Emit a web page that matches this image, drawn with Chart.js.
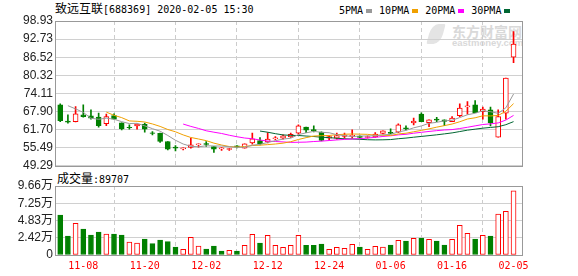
<!DOCTYPE html>
<html><head><meta charset="utf-8">
<script src="https://cdn.jsdelivr.net/npm/chart.js@4.4.1/dist/chart.umd.min.js"></script>
<style>
html,body{margin:0;padding:0;background:#fff;width:578px;height:276px;overflow:hidden;}
#wrap{position:relative;width:578px;height:276px;}
.abs{position:absolute;white-space:nowrap;line-height:14px;color:#000;}
.cjk{font-family:"Noto Sans CJK SC";font-size:12px;}
.mono{font-family:"DejaVu Sans Mono";font-size:10px;}
.sq{display:inline-block;width:6px;height:4px;margin:0 7px 0 3px;vertical-align:1px;}
#wm{position:absolute;left:420px;top:22px;width:102px;height:26px;overflow:hidden;}
#wm .abs{color:#d9d9d9;}
canvas{position:absolute;left:0;}
</style></head>
<body><div id="wrap">
<div id="wm">
  <div class="abs" style="left:32px;top:1px;font-family:'Noto Sans CJK SC';font-weight:bold;font-size:14px;line-height:16px;">东方财富网</div>
  <div class="abs" style="left:32px;top:16px;font-family:'Liberation Sans';font-weight:bold;font-size:9.5px;line-height:10px;">eastmoney.com</div>
  <div class="abs" style="left:9px;top:2px;width:14px;height:20px;border-radius:50% 10% 50% 10%;background:#e4e4e4;transform:skewX(-15deg);"></div>
</div>
<div class="abs" id="title" style="left:55px;top:1px;"></div>
<div class="abs" id="legend" style="left:339px;top:2px;"></div>
<div class="abs" id="vlabel" style="left:57px;top:171px;"></div>
<canvas id="pc" width="578" height="176" style="top:0;"></canvas>
<canvas id="vc" width="578" height="106" style="top:170px;"></canvas>
</div>
<script>
// ---------- data ----------
const stockName = '致远互联';
const stockCode = '688369';
const stamp = '2020-02-05 15:30';
const volTitle = '成交量';
const dates = ['11-05','11-06','11-07','11-08','11-11','11-12','11-13','11-14','11-15','11-18','11-19','11-20','11-21','11-22','11-25','11-26','11-27','11-28','11-29','12-02','12-03','12-04','12-05','12-06','12-09','12-10','12-11','12-12','12-13','12-16','12-17','12-18','12-19','12-20','12-23','12-24','12-25','12-26','12-27','12-30','12-31','01-02','01-03','01-06','01-07','01-08','01-09','01-10','01-13','01-14','01-15','01-16','01-17','01-20','01-21','01-22','01-23','02-03','02-04','02-05'];
const tickIdx = [3,11,19,27,35,43,51,59];
const open  = [70.17,64.59,64.45,66.75,66.40,65.96,63.75,66.51,64.00,62.44,63.00,63.50,60.59,60.42,57.61,55.73,55.10,55.62,56.50,56.95,55.90,55.10,54.90,56.10,55.35,57.16,57.95,57.50,58.55,58.77,59.16,60.48,62.54,61.70,60.83,58.77,58.77,59.40,59.40,59.40,59.00,59.22,60.35,60.80,60.80,62.30,64.00,66.99,64.11,65.30,65.04,64.46,66.51,69.50,70.17,67.88,68.46,59.11,67.33,86.50];
const high  = [70.50,66.75,69.59,70.17,68.46,67.33,66.99,67.09,64.00,63.32,63.56,63.90,61.03,60.48,57.61,56.24,55.45,58.77,56.82,57.61,55.90,55.56,55.30,56.24,56.82,60.48,58.98,60.69,59.32,59.90,60.48,63.32,62.54,62.98,60.93,59.56,60.48,60.48,61.61,59.56,59.60,60.69,61.27,61.95,63.67,62.98,65.62,67.43,65.04,65.89,65.04,66.17,70.51,71.30,71.64,69.38,69.38,68.46,79.40,95.28];
const low   = [64.45,63.90,64.30,65.96,65.27,62.54,63.09,65.27,61.61,61.85,61.85,60.83,59.90,57.27,54.77,54.42,54.77,55.35,55.69,55.97,53.84,54.53,54.60,55.45,55.35,56.72,56.48,57.10,58.19,58.43,58.98,60.14,60.69,60.90,57.85,58.19,58.43,58.77,58.77,58.77,58.80,58.98,60.24,60.24,60.69,61.61,63.32,64.46,62.74,64.45,63.09,64.46,66.17,66.99,67.53,65.27,62.98,59.11,65.27,84.65];
const close = [64.80,64.25,67.09,66.17,65.62,63.09,66.17,65.27,61.95,62.33,63.56,61.85,60.42,57.61,55.00,55.32,55.45,56.48,56.82,56.65,55.00,55.45,55.20,55.79,56.82,58.53,56.82,58.43,58.87,59.56,60.05,62.98,61.51,61.37,57.95,59.33,59.66,59.80,59.73,59.05,59.30,60.14,61.27,60.42,63.32,61.95,64.58,64.46,65.04,64.93,64.52,65.62,69.04,69.83,67.53,68.70,64.11,66.17,79.40,91.05];
const volume = [56000,26600,44300,36400,28000,32200,29400,29400,28000,18200,16800,22400,15900,21000,18700,11200,7900,24700,12600,8400,12600,5600,6500,5600,13500,28900,16800,27500,13500,10700,13500,27500,13500,13500,15400,7900,10700,9300,14900,11200,7900,12100,11200,14000,20500,19600,23300,23800,22000,19600,14000,22000,41500,30300,22400,27500,26600,57400,61200,89707];
const volDir = ['d','d','u','d','d','d','u','d','d','u','u','d','d','d','d','d','u','u','u','d','d','d','u','d','u','u','d','u','u','u','u','u','d','d','d','u','u','u','u','d','u','u','u','d','u','d','u','d','u','d','d','u','u','u','d','u','d','u','u','u'];
const ma5  = [null,69.9,68.8,67.6,65.59,65.24,65.63,65.26,64.42,63.76,63.86,62.99,62.02,61.15,59.69,58.04,56.76,55.97,55.81,56.14,56.08,56.08,55.82,55.62,55.65,56.36,56.63,57.28,57.89,58.44,58.75,59.98,60.59,61.09,60.77,60.63,59.96,59.62,59.29,59.51,59.51,59.60,59.90,60.04,60.89,61.42,62.31,62.95,63.87,64.19,64.71,64.91,65.83,66.79,67.31,68.14,67.84,67.27,69.18,73.89];
const ma10 = [null,null,null,null,null,null,67.7,66.6,65.8,64.67,64.55,64.31,63.64,62.79,61.73,60.95,59.88,59.00,58.48,57.92,57.06,56.42,55.90,55.72,55.90,56.22,56.36,56.55,56.76,57.05,57.55,58.31,58.94,59.49,59.61,59.69,59.97,60.11,60.19,60.14,60.07,59.78,59.76,59.67,60.20,60.46,60.96,61.42,61.95,62.54,63.06,63.61,64.39,65.33,65.75,66.43,66.38,66.55,67.99,70.60];
const ma20 = [null,null,null,null,null,null,null,null,null,null,null,null,null,null,null,null,63.6,62.8,62.1,61.30,60.81,60.37,59.77,59.25,58.81,58.58,58.12,57.77,57.62,57.48,57.31,57.36,57.42,57.61,57.75,57.95,58.16,58.33,58.48,58.60,58.81,59.04,59.35,59.58,59.90,60.08,60.46,60.77,61.07,61.34,61.57,61.70,62.07,62.50,62.98,63.44,63.67,63.99,64.97,66.57];
const ma30 = [null,null,null,null,null,null,null,null,null,null,null,null,null,null,null,null,null,null,null,null,null,null,null,null,null,null,61.2,60.8,60.3,59.88,59.72,59.68,59.49,59.33,59.08,58.95,58.73,58.55,58.48,58.37,58.23,58.17,58.20,58.29,58.57,58.79,59.09,59.36,59.63,59.91,60.23,60.57,61.03,61.50,61.85,62.19,62.44,62.69,63.38,64.43];
const maNames  = ['5PMA','10PMA','20PMA','30PMA'];
const maSeries = [ma5, ma10, ma20, ma30];
const maColors = ['#999999','#f0a000','#ff00ff','#006633'];
const priceTicks = [49.29,55.49,61.70,67.90,74.11,80.32,86.52,92.73,98.93];
const volTicks = [0,24150,48300,72450,96600];
const volTickLabels = ['0','2.42万','4.83万','7.25万','9.66万'];

// ---------- text ----------
document.getElementById('title').innerHTML =
  '<span class="cjk">'+stockName+'</span><span class="mono">['+stockCode+'] '+stamp+'</span>';
document.getElementById('legend').innerHTML = maNames.map((n,k)=>
  '<span class="mono">'+n+'</span><span class="sq" style="background:'+maColors[k]+'"></span>').join('');
document.getElementById('vlabel').innerHTML =
  '<span class="cjk">'+volTitle+'</span><span class="mono">:'+volume[volume.length-1]+'</span>';

// ---------- charts ----------
const UP = '#ff0000', DOWN = '#008000';
const idx = dates.map((d,i)=>i);
const isUp = idx.map(i=>close[i] >= open[i]);
const XMIN = -0.55, XMAX = 60.1;

const framePlugin = {
  id:'frame',
  beforeDatasetsDraw(chart){
    const a = chart.chartArea, c = chart.ctx;
    c.save(); c.strokeStyle = '#999'; c.lineWidth = 1;
    const l = Math.floor(a.left)-0.5, t = Math.floor(a.top)+0.5;
    const r = Math.round(a.right)+0.5, b = Math.round(a.bottom)+0.5;
    c.strokeRect(l, t, r-l, b-t);
    c.restore();
  }
};

function xScale(showLabels){
  return {
    type:'linear', min:XMIN, max:XMAX, offset:false,
    afterBuildTicks:(s)=>{ s.ticks = tickIdx.map(v=>({value:v})); },
    afterFit:(s)=>{ s.height = showLabels ? 21 : 0; },
    grid:{ color:'#cccccc', lineWidth:1, drawTicks:false },
    border:{ display:false, dash:[4,3] },
    ticks:{ display:showLabels, autoSkip:false, maxRotation:0, padding:5, color:'#ff0000',
      font:{ family:'DejaVu Sans Mono', size:10 },
      callback:(v)=>dates[v] }
  };
}

new Chart(document.getElementById('pc'), {
  type:'bar',
  data:{ datasets:[
    ...maSeries.map((s,k)=>({
      type:'line', label:maNames[k], order:0,
      data: idx.filter(i=>s[i]!==null).map(i=>({x:i, y:s[i]})),
      borderColor:maColors[k], borderWidth:1, pointRadius:0, tension:0, fill:false
    })),
    { label:'body', order:1, grouped:false, barThickness:5,
      data: idx.map(i=>({x:i, y:[open[i], close[i]]})),
      backgroundColor: idx.map(i=>isUp[i] ? '#ffffff' : DOWN),
      borderColor: idx.map(i=>isUp[i] ? UP : DOWN),
      borderWidth:1, borderSkipped:false },
    { label:'wick', order:2, grouped:false, barThickness:1,
      data: idx.map(i=>({x:i, y:[low[i], high[i]]})),
      backgroundColor: idx.map(i=>isUp[i] ? UP : DOWN),
      borderWidth:0 }
  ]},
  options:{
    responsive:false, animation:false, devicePixelRatio:1,
    layout:{ padding:{ top:21, bottom:10, left:0, right:56 } },
    plugins:{ legend:{display:false}, tooltip:{enabled:false} },
    scales:{
      x: xScale(false),
      y:{ type:'linear', min:49.29, max:98.93,
        afterBuildTicks:(s)=>{ s.ticks = priceTicks.map(v=>({value:v})); },
        afterFit:(s)=>{ s.width = 56; },
        grid:{ color:'#d0d0d0', drawTicks:false },
        border:{ display:false },
        ticks:{ autoSkip:false, padding:3, color:'#222', font:{ family:'Liberation Sans', size:12 },
          callback:(v)=>Number(v).toFixed(2) } }
    }
  },
  plugins:[framePlugin]
});

new Chart(document.getElementById('vc'), {
  type:'bar',
  data:{ datasets:[
    { label:volTitle, grouped:false, barThickness:5,
      data: idx.map(i=>({x:i, y:volume[i]})),
      backgroundColor: idx.map(i=>volDir[i]==='u' ? '#ffffff' : DOWN),
      borderColor: idx.map(i=>volDir[i]==='u' ? UP : DOWN),
      borderWidth:1, borderSkipped:false }
  ]},
  options:{
    responsive:false, animation:false, devicePixelRatio:1,
    layout:{ padding:{ top:16, bottom:0, left:0, right:56 } },
    plugins:{ legend:{display:false}, tooltip:{enabled:false} },
    scales:{
      x: xScale(true),
      y:{ type:'linear', min:0, max:96600,
        afterBuildTicks:(s)=>{ s.ticks = volTicks.map(v=>({value:v})); },
        afterFit:(s)=>{ s.width = 56; },
        grid:{ color:'#d0d0d0', drawTicks:false },
        border:{ display:false },
        ticks:{ autoSkip:false, padding:3, color:'#222', font:{ family:"'Liberation Sans','Noto Sans CJK SC'", size:12 },
          callback:(v)=>volTickLabels[volTicks.indexOf(v)] } }
    }
  },
  plugins:[framePlugin]
});
</script>
</body></html>
